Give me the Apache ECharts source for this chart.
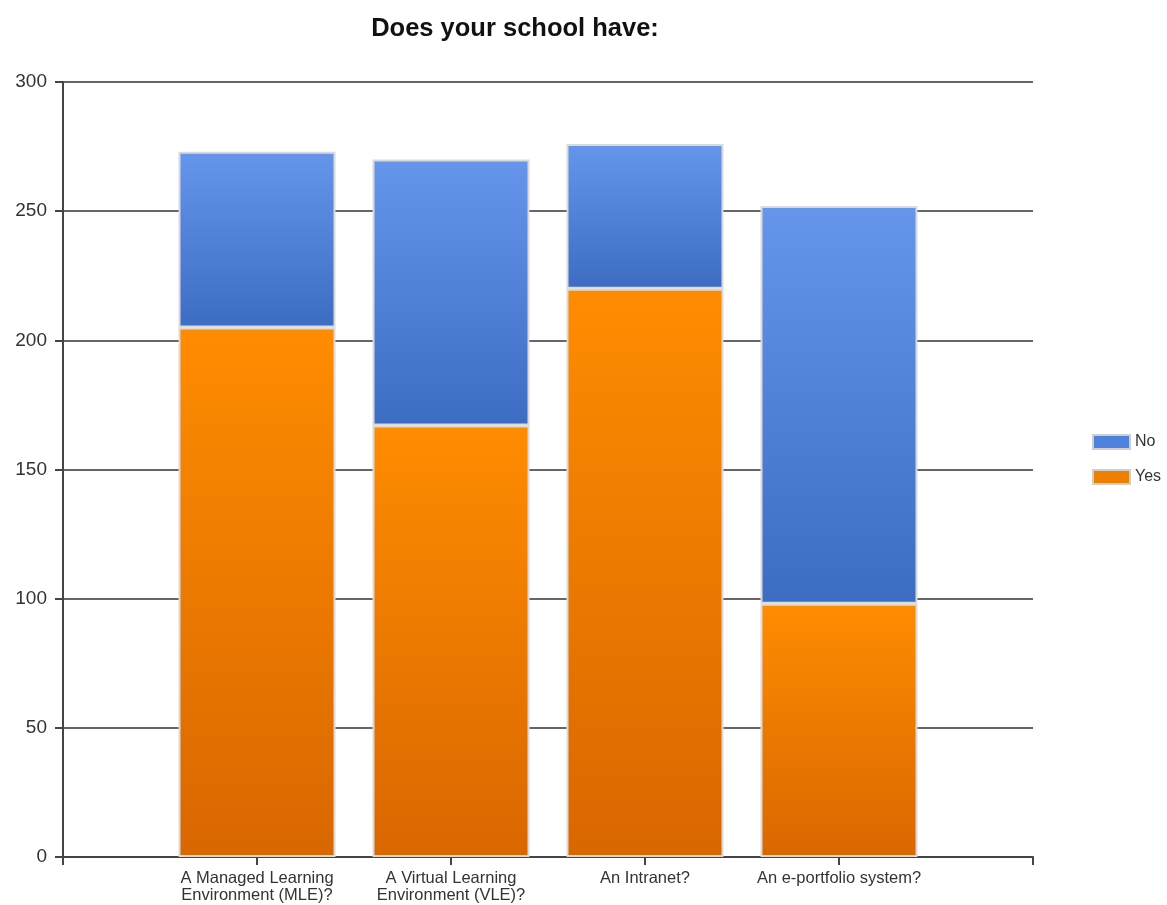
<!DOCTYPE html>
<html>
<head>
<meta charset="utf-8">
<script src="https://cdn.jsdelivr.net/npm/echarts@6/dist/echarts.min.js"></script>
<style>
  html, body { margin: 0; padding: 0; background: #fff; }
  #chart { width: 1167px; height: 905px; }
</style>
</head>
<body>
<div id="chart"></div>
<script>
// Survey answers per question
const categories = [
  'A Managed Learning\nEnvironment (MLE)?',
  'A Virtual Learning\nEnvironment (VLE)?',
  'An Intranet?',
  'An e-portfolio system?'
];
const yesValues = [205, 167, 220, 98];
const noValues = [68, 103, 56, 154];
const yTicks = [0, 50, 100, 150, 200, 250, 300];

function grad(top, bottom) {
  return new echarts.graphic.LinearGradient(0, 0, 0, 1, [
    { offset: 0, color: top },
    { offset: 1, color: bottom }
  ]);
}

const orange = grad('#ff8c00', '#d96700');
const blue = grad('#6596ec', '#3d6dc3');
const fontMain = 'Liberation Sans, Arial, sans-serif';

// Outer frame: gridlines, y scale and the bottom axis with one slot of
// padding on each side. Inner grid: the four category slots holding bars.
const PLOT_LEFT = 63, PLOT_RIGHT = 1033, SLOT = (PLOT_RIGHT - PLOT_LEFT) / (categories.length + 1);

const chart = echarts.init(document.getElementById('chart'));
chart.setOption({
  animation: false,
  backgroundColor: '#ffffff',
  title: {
    text: 'Does your school have:',
    left: 510,
    top: 11,
    textAlign: 'center',
    textStyle: { fontFamily: fontMain, fontSize: 25.5, fontWeight: 'bold', color: '#111' }
  },
  legend: {
    orient: 'vertical',
    left: 1092,
    top: 434,
    padding: 0,
    itemWidth: 37,
    itemHeight: 14,
    itemGap: 19,
    icon: 'rect',
    data: [
      { name: 'No', itemStyle: { color: '#4f82de', borderColor: '#cfcfcf', borderWidth: 2 } },
      { name: 'Yes', itemStyle: { color: '#f07e00', borderColor: '#cfcfcf', borderWidth: 2 } }
    ],
    textStyle: { fontFamily: fontMain, fontSize: 16, lineHeight: 16, color: '#333' }
  },
  grid: [
    { left: PLOT_LEFT, right: 1167 - PLOT_RIGHT, top: 82, bottom: 48 },
    { left: PLOT_LEFT + SLOT / 2, right: 1167 - PLOT_RIGHT + SLOT / 2, top: 82, bottom: 48 }
  ],
  xAxis: [
    {
      gridIndex: 0,
      type: 'value',
      min: 0,
      max: categories.length + 1,
      interval: 1,
      splitLine: { show: false },
      axisLine: { show: true, lineStyle: { color: '#444', width: 2 } },
      axisTick: { show: true, length: 8, lineStyle: { color: '#444', width: 2 } },
      axisLabel: { show: false }
    },
    {
      gridIndex: 1,
      type: 'category',
      data: categories,
      axisLine: { show: false },
      axisTick: { show: false },
      axisLabel: {
        interval: 0,
        margin: 13,
        fontFamily: fontMain,
        fontSize: 16.5,
        lineHeight: 17,
        color: '#333'
      }
    }
  ],
  yAxis: [
    {
      gridIndex: 0,
      type: 'value',
      min: 0,
      max: 300,
      interval: 50,
      axisLine: { show: true, lineStyle: { color: '#444', width: 2 } },
      axisTick: { show: true, length: 8, lineStyle: { color: '#444', width: 2 } },
      splitLine: { show: true, lineStyle: { color: '#333', width: 1.5 } },
      axisLabel: {
        margin: 16,
        fontFamily: fontMain,
        fontSize: 19,
        color: '#333',
        formatter: function (v) { return yTicks.indexOf(v) >= 0 ? String(v) : ''; }
      }
    },
    {
      gridIndex: 1,
      type: 'value',
      min: 0,
      max: 300,
      interval: 50,
      show: false
    }
  ],
  series: [
    {
      name: 'Yes',
      type: 'bar',
      xAxisIndex: 1,
      yAxisIndex: 1,
      stack: 'answers',
      barWidth: 157,
      itemStyle: { color: orange, borderColor: '#dadada', borderWidth: 2 },
      data: yesValues
    },
    {
      name: 'No',
      type: 'bar',
      xAxisIndex: 1,
      yAxisIndex: 1,
      stack: 'answers',
      barWidth: 157,
      itemStyle: { color: blue, borderColor: '#dadada', borderWidth: 2 },
      data: noValues
    }
  ]
});
</script>
</body>
</html>
